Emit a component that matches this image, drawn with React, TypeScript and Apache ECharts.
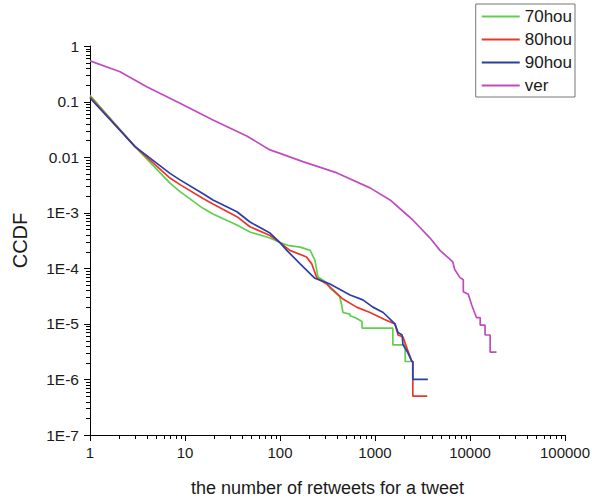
import React, { useEffect, useRef } from "react";
import * as echarts from "echarts";

const seriesNames = ["70hou", "80hou", "90hou", "ver"];
const seriesColors = ["#5fcf4f", "#e8382c", "#2c3fa6", "#c04cc0"];

const green70: [number, number][] = [
  [1, 0.129], [2.98, 0.0155], [6.95, 0.0034], [8.86, 0.0024], [15.5, 0.0012], [19.7, 9.5e-4],
  [35.2, 6.0e-4], [48.3, 4.5e-4], [78.5, 3.5e-4], [100, 2.9e-4], [125, 2.55e-4], [163, 2.4e-4],
  [208, 2.1e-4], [233, 1.4e-4], [251, 7.0e-5], [311, 5.5e-5], [336, 4.4e-5], [425, 3.1e-5],
  [450, 2.0e-5], [460, 1.6e-5], [546, 1.5e-5], [546, 1.4e-5], [615, 1.3e-5], [730, 1.1e-5],
  [730, 8.4e-6], [1540, 8.4e-6], [1540, 4.2e-6], [2080, 4.2e-6], [2080, 2.1e-6], [2450, 2.1e-6],
];

const red80: [number, number][] = [
  [1, 0.122], [2.98, 0.0155], [6.95, 0.0042], [8.86, 0.0032], [15.5, 0.0018], [19.7, 0.00144],
  [35.2, 8.5e-4], [48.3, 5.6e-4], [78.5, 3.9e-4], [100, 2.9e-4], [127, 2.1e-4], [190, 1.6e-4],
  [216, 1.2e-4], [245, 6.6e-5], [311, 5.2e-5], [336, 4.6e-5], [460, 2.8e-5], [640, 2.0e-5],
  [886, 1.6e-5], [1260, 1.2e-5], [1620, 1.0e-5], [1750, 6.3e-6], [1970, 5.8e-6], [2200, 3.4e-6],
  [2450, 2.1e-6], [2500, 2.1e-6], [2500, 5e-7], [3550, 5e-7],
];

const blue90: [number, number][] = [
  [1, 0.116], [2.98, 0.0155], [6.95, 0.0051], [8.86, 0.0039], [15.5, 0.0022], [19.7, 0.0017],
  [35.2, 0.00104], [48.3, 6.8e-4], [78.5, 4.3e-4], [100, 2.9e-4], [118, 2.1e-4], [163, 1.2e-4],
  [233, 6.6e-5], [311, 5.5e-5], [336, 5.2e-5], [546, 3.3e-5], [745, 2.7e-5], [950, 2.0e-5],
  [1220, 1.6e-5], [1620, 1.0e-5], [1750, 7.0e-6], [1930, 6.3e-6], [1970, 4.2e-6], [2200, 3.1e-6],
  [2450, 2.1e-6], [2500, 2.1e-6], [2500, 1.0e-6], [3600, 1.0e-6],
];

const ver: [number, number][] = [
  [1, 0.54], [2.07, 0.345], [3.95, 0.185], [8.86, 0.093], [19.7, 0.0467], [44.6, 0.024],
  [78.5, 0.0135], [100, 0.0117], [174, 0.0083], [398, 0.0052], [886, 0.0028], [1440, 0.0017],
  [2180, 9.1e-4], [2500, 7.4e-4], [3800, 3.5e-4], [4830, 2.1e-4], [6600, 1.3e-4], [6900, 9.5e-5],
  [7850, 6.8e-5], [8500, 6.2e-5], [8500, 3.8e-5], [9600, 3.4e-5], [10400, 2.2e-5], [11000, 1.7e-5],
  [11700, 1.3e-5], [12800, 1.3e-5], [12800, 9.5e-6], [14400, 9.5e-6], [14400, 6.3e-6],
  [16300, 6.3e-6], [16300, 3.1e-6], [19000, 3.1e-6],
];

const xTickLabels = ["1", "10", "100", "1000", "10000", "100000"];
const yTickLabels = ["1E-7", "1E-6", "1E-5", "1E-4", "1E-3", "0.01", "0.1", "1"];

const X_MIN = 1;
const X_MAX = 100000;
const Y_MIN = 1e-7;
const Y_MAX = 1;

function decades(lo: number, hi: number): number[] {
  const out: number[] = [];
  for (let e = Math.round(Math.log10(lo)); e <= Math.round(Math.log10(hi)); e++) out.push(Math.pow(10, e));
  return out;
}
function minorValues(lo: number, hi: number): number[] {
  const out: number[] = [];
  for (const d of decades(lo, hi)) {
    if (d >= hi * 0.999) continue;
    for (let m = 2; m <= 9; m++) out.push(m * d);
  }
  return out;
}

export default function App() {
  const ref = useRef<HTMLDivElement>(null);
  useEffect(() => {
    if (!ref.current) return;
    const chart = echarts.init(ref.current, undefined, { renderer: "svg" });
    const font = "'Liberation Sans', Arial, sans-serif";
    const dataSets = [green70, red80, blue90, ver];
    const lineSeries = seriesNames.map((name, i) => ({
      name,
      type: "line",
      data: dataSets[i],
      showSymbol: false,
      symbol: "none",
      smooth: false,
      lineStyle: { color: seriesColors[i], width: 1.7 },
      itemStyle: { color: seriesColors[i] },
      z: 3 + i,
    }));
    const expLabel = (v: number, labels: string[], minExp: number) => {
      const e = Math.round(Math.log10(v));
      return labels[e - minExp] ?? "";
    };
    chart.setOption({
      animation: false,
      backgroundColor: "#ffffff",
      grid: { left: 90, right: 27, top: 46, bottom: 65, containLabel: false, outerBoundsMode: "none" },
      legend: {
        data: seriesNames,
        orient: "vertical",
        right: 17,
        top: 4,
        padding: [4, 3, 3, 6],
        borderColor: "#777777",
        borderWidth: 1,
        itemWidth: 38,
        itemHeight: 17,
        itemGap: 6,
        icon: "path://M0,0 L38,0 L38,1.8 L0,1.8 Z",
        textStyle: { fontSize: 17, fontFamily: font, color: "#1a1a1a" },
      },
      xAxis: {
        type: "log",
        logBase: 10,
        min: X_MIN,
        max: X_MAX,
        name: "the number of retweets for a tweet",
        nameLocation: "middle",
        nameGap: 44,
        nameTextStyle: { fontSize: 18, fontFamily: font, color: "#1a1a1a" },
        axisLine: { show: true, lineStyle: { color: "#000", width: 1 } },
        axisTick: { show: false },
        minorTick: { show: false },
        splitLine: { show: false },
        axisLabel: {
          margin: 10,
          fontSize: 15,
          fontFamily: font,
          color: "#1a1a1a",
          formatter: (v: number) => expLabel(v, xTickLabels, 0),
        },
      },
      yAxis: {
        type: "log",
        logBase: 10,
        min: Y_MIN,
        max: Y_MAX,
        name: "CCDF",
        nameLocation: "middle",
        nameGap: 60,
        nameTextStyle: { fontSize: 20, fontFamily: font, color: "#1a1a1a" },
        axisLine: { show: true, lineStyle: { color: "#000", width: 1 } },
        axisTick: { show: false },
        minorTick: { show: false },
        splitLine: { show: false },
        axisLabel: {
          margin: 11,
          fontSize: 15.5,
          fontFamily: font,
          color: "#1a1a1a",
          formatter: (v: number) => expLabel(v, yTickLabels, -7),
        },
      },
      series: lineSeries,
    });

    // Major and log-spaced minor ticks, positioned through the chart's own log scales
    const ticks: any[] = [];
    const px = (v: [number, number]) => chart.convertToPixel({ gridIndex: 0 }, v) as number[];
    const addX = (v: number, len: number) => {
      const p = px([v, Y_MIN]);
      const x = Math.round(p[0]);
      ticks.push({ type: "rect", z: 100, silent: true, shape: { x: x, y: p[1], width: 1, height: len }, style: { fill: "#000000" } });
    };
    const addY = (v: number, len: number) => {
      const p = px([X_MIN, v]);
      const y = Math.round(p[1]);
      ticks.push({ type: "rect", z: 100, silent: true, shape: { x: p[0] - len, y: y, width: len, height: 1 }, style: { fill: "#000000" } });
    };
    decades(X_MIN, X_MAX).forEach((v) => addX(v, 6));
    minorValues(X_MIN, X_MAX).forEach((v) => addX(v, 4));
    decades(Y_MIN, Y_MAX).forEach((v) => addY(v, 6));
    minorValues(Y_MIN, Y_MAX).forEach((v) => addY(v, 4));
    chart.setOption({ graphic: { elements: ticks } });

    return () => chart.dispose();
  }, []);
  return <div ref={ref} style={{ width: 592, height: 500, position: "absolute", left: 0, top: 0 }} />;
}
